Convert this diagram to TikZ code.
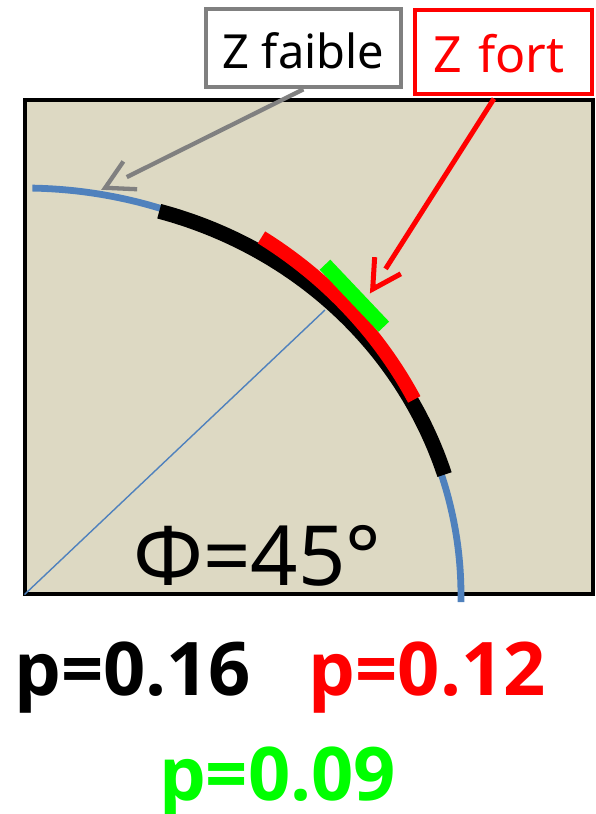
\documentclass[tikz,border=0pt]{standalone}
\usepackage{fontspec}
\setmainfont{Noto Sans}
\newfontfamily\pboldfont{Open Sans}
\usetikzlibrary{calc}
\definecolor{beige}{HTML}{DDD9C3}
\definecolor{arcblue}{HTML}{4F81BD}
\definecolor{pgreen}{HTML}{00FF00}
\definecolor{pgray}{HTML}{808080}
\definecolor{pred}{HTML}{FF0000}
\tikzset{
  labelbox/.style={fill=white, inner sep=0pt},
  shaft/.style={line width=#1, shorten >=24pt},
  barb/.style={line width=#1, line join=miter},
  arcline/.style={line width=#1, smooth, line cap=butt},
  ptext/.style={anchor=base west, inner sep=0pt, font=\fontsize{74}{74}\selectfont\pboldfont\bfseries}
}
\begin{document}
\begin{tikzpicture}[x=1pt,y=-1pt]
\useasboundingbox (0,0) rectangle (595,814);
% frame
\draw[line width=4pt, fill=beige] (24.5,99.8) rectangle (593.3,594.4);
% arcs
\coordinate (O) at (24.5,594.5);
\coordinate (P45) at (325,310);
\draw[arcblue, arcline=6.8pt] plot[domain=-1:88.9, samples=80] ({24+437*cos(\x)},{595-407*sin(\x)});
\draw[arcblue, line width=1.4pt] (O) -- (P45);
\draw[black, arcline=15pt] plot[domain=17.1:72.1, samples=80] ({24+440*cos(\x)},{595-(409.5-6.2*((\x-17)/55)^2)*sin(\x)});
\draw[pred, arcline=14pt] plot[domain=27.4:57.3, samples=60] ({24+439.6*cos(\x)},{595-425*sin(\x)});
\coordinate (g1) at (325,264.7);
\coordinate (g2) at (383.8,326.7);
\draw[pgreen, line width=14.6pt] (g1) -- (g2);
% angle label
\node[anchor=base west, inner sep=0pt, font=\fontsize{83}{83}\selectfont] (phi) at (133,585) {Φ=45°};
% labels
\node[labelbox, draw=pgray, line width=4pt, minimum width=195.2pt, minimum height=78pt,
      text height=39.4pt, text depth=0pt, font=\fontsize{47}{47}\selectfont]
      (faible) at (303.4,48.3) {Z faible};
\node[labelbox, draw=pred, line width=4.6pt, minimum height=84pt, inner xsep=18.4pt,
      text width=140.4pt, align=left, text height=41.8pt, text depth=0pt, text=pred,
      font=\fontsize{50}{50}\selectfont]
      (fort) at (503.4,51.8) {Z fort};
% arrows
\coordinate (wtip) at (105.2,187.8);
\coordinate (stip) at (372.7,289.1);
\draw[pgray, shaft=4.3pt] (faible.south) -- (wtip);
\draw[pgray, barb=4.3pt] ($(wtip)!32pt!29:(faible.south)$) -- (wtip) -- ($(wtip)!32pt!-29:(faible.south)$);
\draw[pred, shaft=5pt, shorten <=3pt] (fort.260) -- (stip);
\draw[pred, barb=5pt] ($(stip)!32pt!29:(fort.260)$) -- (stip) -- ($(stip)!32pt!-29:(fort.260)$);
% probabilities
\node[ptext, text=black] (p16) at (14,695) {p=0.16};
\node[ptext, text=pred] (p12) at (308.5,695) {p=0.12};
\node[ptext, text=pgreen] (p09) at (158.8,800.7) {p=0.09};
\end{tikzpicture}
\end{document}
